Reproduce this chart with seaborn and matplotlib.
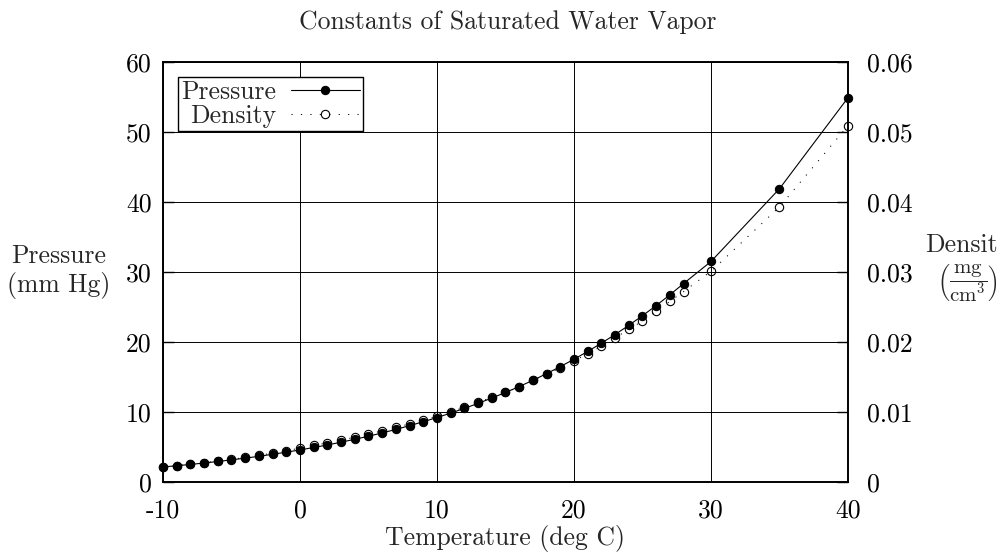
import matplotlib
matplotlib.use("Agg")
import matplotlib.pyplot as plt
import seaborn as sns

# Saturated water vapor data
temps = list(range(-10, 29)) + [30, 35, 40]
pressure = [2.15, 2.32, 2.51, 2.71, 2.93, 3.16, 3.41, 3.67, 3.96, 4.26,
            4.58, 4.93, 5.29, 5.69, 6.10, 6.54, 7.01, 7.51, 8.05, 8.61,
            9.21, 9.84, 10.52, 11.23, 11.99, 12.79, 13.63, 14.53, 15.48, 16.48,
            17.54, 18.65, 19.83, 21.07, 22.38, 23.76, 25.21, 26.74, 28.35,
            31.5, 41.9, 54.9]
density = [0.00214, 0.00233, 0.00254, 0.00275, 0.00299, 0.00324, 0.00351, 0.00381, 0.00413, 0.00447,
           0.00484, 0.00522, 0.00560, 0.00598, 0.00640, 0.00684, 0.00730, 0.00780, 0.00830, 0.00880,
           0.00940, 0.01000, 0.01070, 0.01140, 0.01210, 0.01280, 0.01360, 0.01450, 0.01540, 0.01630,
           0.01730, 0.01830, 0.01940, 0.02060, 0.02180, 0.02300, 0.02440, 0.02580, 0.02720,
           0.03010, 0.03930, 0.05090]

x_ticks = [-10, 0, 10, 20, 30, 40]
x_labels = ["-10", "0", "10", "20", "30", "40"]
p_ticks = [0, 10, 20, 30, 40, 50, 60]
p_labels = ["0", "10", "20", "30", "40", "50", "60"]
d_ticks = [0, 0.01, 0.02, 0.03, 0.04, 0.05, 0.06]
d_labels = ["0", "0.01", "0.02", "0.03", "0.04", "0.05", "0.06"]

sns.set_style("white")
plt.rcParams["font.family"] = ["cmr10", "DejaVu Serif"]
plt.rcParams["mathtext.fontset"] = "cm"
plt.rcParams["axes.unicode_minus"] = False
plt.rcParams["font.size"] = 18.5

fig = plt.figure(figsize=(9.98, 5.58), dpi=100)
ax = fig.add_axes([0.1633, 0.1362, 0.6864, 0.7527])
ax2 = ax.twinx()

sns.lineplot(x=temps, y=pressure, ax=ax, color="black", linewidth=0.8,
             marker="o", markersize=6, markerfacecolor="black",
             markeredgecolor="black", label="Pressure", legend=False,
             clip_on=False, errorbar=None)
sns.lineplot(x=temps, y=density, ax=ax2, color="black", linewidth=0.7,
             linestyle=(0, (1.2, 8.5)), marker="o", markersize=6,
             markerfacecolor="none", markeredgecolor="black",
             markeredgewidth=0.8, label="Density", legend=False,
             clip_on=False, errorbar=None)

ax.set_xlim(-10, 40)
ax.set_ylim(0, 60)
ax2.set_ylim(0, 0.06)
ax.set_xticks(x_ticks)
ax.set_xticklabels(x_labels)
ax.set_yticks(p_ticks)
ax.set_yticklabels(p_labels)
ax2.set_yticks(d_ticks)
ax2.set_yticklabels(d_labels)

ax.grid(True, color="black", linewidth=0.7)
ax2.grid(False)
for a in (ax, ax2):
    for s in a.spines.values():
        s.set_color("black")
        s.set_linewidth(1.2)
ax.tick_params(axis="x", direction="in", length=6, width=1, pad=12, colors="black")
ax.tick_params(axis="y", direction="in", length=8, width=1, pad=8, colors="black")
ax2.tick_params(axis="y", direction="in", length=8, width=1, pad=14, colors="black")

ax.set_xlabel("Temperature (deg C)")
ax.xaxis.label.set_va("baseline")
ax.xaxis.set_label_coords(0.5, -0.15)
ax.set_ylabel("Pressure\n(mm Hg)", rotation=0, ha="center", va="center",
              multialignment="center")
ax.yaxis.set_label_coords(-0.152, 0.502)

# right axis label: name plus unit fraction underneath (runs off the edge like the original)
ax2.set_ylabel("Density", rotation=0, ha="center", va="baseline")
ax2.yaxis.set_label_coords(1.176, 0.548)
ax2.text(1.174, 0.472, "$\\left(\\dfrac{\\mathrm{mg}}{\\mathrm{cm}^3}\\right)$",
         transform=ax2.transAxes, ha="center", va="center", fontsize=15,
         clip_on=False)

fig.text(0.5085, 1 - 29 / 558, "Constants of Saturated Water Vapor",
         ha="center", va="baseline")

h1, l1 = ax.get_legend_handles_labels()
h2, l2 = ax2.get_legend_handles_labels()
leg = ax2.legend(h1 + h2, l1 + l2, loc="upper left", markerfirst=False,
                 frameon=True, fancybox=False, framealpha=1, edgecolor="black",
                 handlelength=2.7, handletextpad=0.55, borderpad=0.12,
                 labelspacing=0.0, borderaxespad=0.6)
leg.get_frame().set_linewidth(1.0)

fig.savefig("out.png", dpi=100)
